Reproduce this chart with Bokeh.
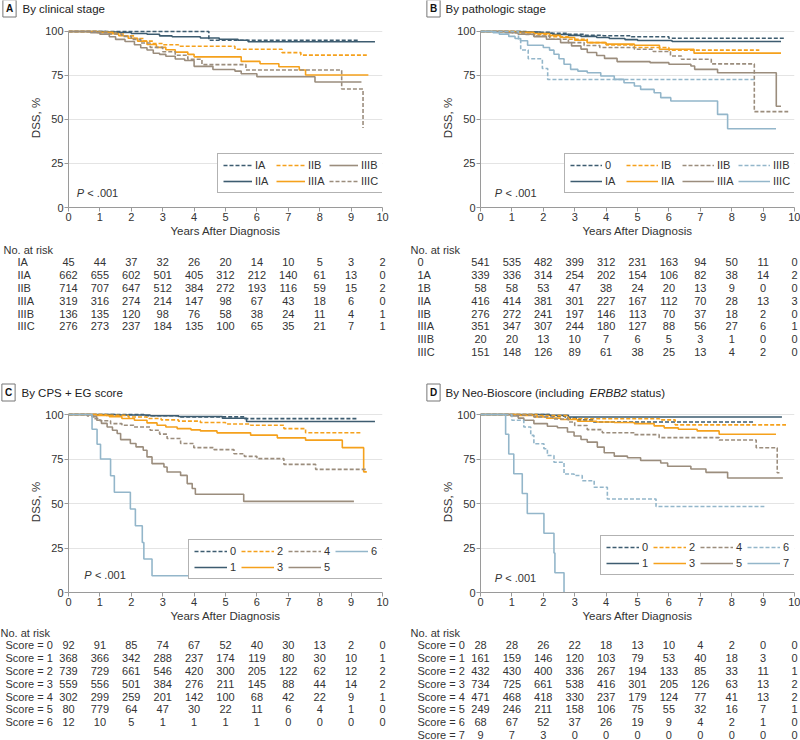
from bokeh.plotting import figure
from bokeh.layouts import row, column
from bokeh.models import Range1d, Label, Legend, LegendItem, ColumnDataSource
from bokeh.embed import file_html
from bokeh.resources import INLINE
from bokeh.core.properties import value

FONT = "Liberation Sans"
C_BLUE = "#3d5c70"
C_ORANGE = "#f5a11c"
C_TAUPE = "#9b8d7d"
C_LIGHT = "#93b6ca"
TXT = "#333333"

YEARS = list(range(11))

# ---------------- Panel A: clinical stage ----------------
a_IA_t = [0, 4.47, 9.24]
a_IA_s = [100, 95.0, 95.0]
a_IIA_t = [0, 1.2, 1.55, 2.0, 2.5, 2.9, 3.3, 4.2, 4.8, 5.4, 5.72, 9.76]
a_IIA_s = [100, 99.7, 99.4, 98.9, 98.4, 97.5, 97.0, 96.3, 95.6, 95.0, 94.2, 94.2]
a_IIB_t = [0, 1.0, 1.5, 1.8, 2.1, 2.4, 2.7, 3.0, 3.5, 5.3, 6.8, 7.4, 9.5]
a_IIB_s = [100, 99.5, 98.6, 97.5, 96.0, 94.5, 93.2, 92.5, 91.6, 89.9, 88.0, 86.6, 86.6]
a_IIIA_t = [0, 0.9, 1.3, 1.6, 1.9, 2.2, 2.5, 2.8, 3.1, 3.4, 3.8, 4.0, 5.5, 6.1, 6.7, 7.35, 7.55, 9.55]
a_IIIA_s = [100, 99.5, 98.8, 97.6, 96.2, 94.5, 92.6, 91.0, 89.6, 88.3, 87.0, 85.6, 83.0, 81.7, 80.0, 78.1, 75.3, 75.3]
a_IIIB_t = [0, 0.7, 1.0, 1.3, 1.5, 1.8, 2.1, 2.3, 2.5, 2.7, 2.9, 3.1, 3.4, 3.7, 4.0, 4.6, 5.3, 5.5, 6.0, 7.85, 9.33]
a_IIIB_s = [100, 99.3, 98.5, 97.0, 95.5, 94.3, 92.5, 90.8, 89.5, 87.6, 87.0, 85.9, 84.4, 83.5, 80.2, 78.4, 77.5, 76.0, 74.3, 71.3, 71.3]
a_IIIC_t = [0, 0.9, 1.3, 1.7, 2.0, 2.3, 2.6, 3.0, 3.4, 3.8, 4.25, 5.65, 8.7, 9.38]
a_IIIC_s = [100, 99.5, 98.6, 97.2, 95.5, 93.5, 91.0, 88.5, 86.5, 84.2, 81.2, 78.1, 67.3, 45.2]

a_groups = ["IA", "IIA", "IIB", "IIIA", "IIIB", "IIIC"]
risk_a_IA = [45, 44, 37, 32, 26, 20, 14, 10, 5, 3, 2]
risk_a_IIA = [662, 655, 602, 501, 405, 312, 212, 140, 61, 13, 0]
risk_a_IIB = [714, 707, 647, 512, 384, 272, 193, 116, 59, 15, 2]
risk_a_IIIA = [319, 316, 274, 214, 147, 98, 67, 43, 18, 6, 0]
risk_a_IIIB = [136, 135, 120, 98, 76, 58, 38, 24, 11, 4, 1]
risk_a_IIIC = [276, 273, 237, 184, 135, 100, 65, 35, 21, 7, 1]

# ---------------- Panel B: pathologic stage ----------------
b_0_t = [0, 1.5, 2.2, 2.8, 3.3, 3.9, 4.8, 6.0, 9.7]
b_0_s = [100, 99.6, 99.0, 98.4, 97.9, 97.6, 97.0, 96.2, 96.2]
b_IA_t = [0, 1.3, 1.9, 2.3, 2.8, 3.2, 3.7, 4.1, 4.6, 5.0, 6.1, 9.57]
b_IA_s = [100, 99.7, 99.0, 98.3, 97.8, 97.2, 96.6, 96.0, 95.4, 94.9, 94.3, 94.3]
b_IB_t = [0, 1.2, 1.7, 2.2, 2.8, 3.4, 4.0, 4.9, 6.0, 8.88]
b_IB_s = [100, 99.2, 98.2, 97.0, 95.6, 93.7, 92.4, 90.9, 89.4, 89.4]
b_IIA_t = [0, 1.1, 1.7, 2.2, 2.55, 3.0, 3.4, 4.0, 4.9, 5.7, 6.8, 9.57]
b_IIA_s = [100, 99.5, 98.9, 97.8, 96.6, 95.0, 93.7, 92.8, 92.2, 89.9, 87.7, 87.7]
b_IIB_t = [0, 1.0, 1.4, 1.7, 2.2, 2.8, 3.3, 3.8, 4.9, 5.5, 6.05, 6.4, 7.35, 8.72, 9.8]
b_IIB_s = [100, 99.3, 98.3, 97.4, 95.6, 93.7, 92.0, 90.9, 89.9, 88.6, 86.1, 84.2, 81.6, 54.5, 54.5]
b_IIIA_t = [0, 0.8, 1.2, 1.7, 2.1, 2.55, 2.9, 3.2, 3.4, 3.7, 3.95, 4.35, 5.4, 6.0, 6.7, 6.82, 7.55, 9.42, 9.57]
b_IIIA_s = [100, 99.3, 98.4, 97.1, 95.6, 93.7, 91.8, 90.0, 88.1, 86.4, 84.7, 82.9, 82.3, 81.4, 80.4, 78.5, 76.6, 57.5, 57.5]
b_IIIB_t = [0, 1.21, 1.28, 1.52, 1.97, 2.14, 8.72]
b_IIIB_s = [100, 95.0, 89.5, 84.5, 79.0, 72.7, 72.7]
b_IIIC_t = [0, 0.4, 0.6, 0.9, 1.1, 1.28, 1.5, 2.0, 2.2, 2.34, 2.5, 2.66, 2.87, 3.1, 3.4, 3.83, 4.26, 4.57, 4.9, 5.1, 5.53, 5.74, 6.06, 7.55, 7.87, 9.41]
b_IIIC_s = [100, 99.3, 98.5, 97.2, 96.0, 94.7, 92.2, 90.9, 89.4, 87.1, 84.5, 81.4, 78.5, 77.5, 76.6, 74.7, 72.8, 70.9, 69.0, 67.1, 65.2, 62.4, 60.5, 52.9, 44.7, 44.7]

b_groups = ["0", "1A", "1B", "IIA", "IIB", "IIIA", "IIIB", "IIIC"]
risk_b_0 = [541, 535, 482, 399, 312, 231, 163, 94, 50, 11, 0]
risk_b_1A = [339, 336, 314, 254, 202, 154, 106, 82, 38, 14, 2]
risk_b_1B = [58, 58, 53, 47, 38, 24, 20, 13, 9, 0, 0]
risk_b_IIA = [416, 414, 381, 301, 227, 167, 112, 70, 28, 13, 3]
risk_b_IIB = [276, 272, 241, 197, 146, 113, 70, 37, 18, 2, 0]
risk_b_IIIA = [351, 347, 307, 244, 180, 127, 88, 56, 27, 6, 1]
risk_b_IIIB = [20, 20, 13, 10, 7, 6, 5, 3, 1, 0, 0]
risk_b_IIIC = [151, 148, 126, 89, 61, 38, 25, 13, 4, 2, 0]

# ---------------- Panel C: CPS + EG score ----------------
c_0_t = [0, 2.4, 3.5, 5.6, 9.17]
c_0_s = [100, 99.3, 98.7, 97.7, 97.7]
c_1_t = [0, 1.5, 2.6, 3.5, 4.9, 5.67, 9.76]
c_1_s = [100, 99.7, 99.3, 98.9, 97.9, 96.1, 96.1]
c_2_t = [0, 1.2, 1.9, 2.5, 2.95, 3.5, 4.2, 5.0, 5.8, 6.86, 7.55, 9.3]
c_2_s = [100, 99.5, 98.6, 97.8, 97.0, 96.3, 95.5, 94.7, 94.0, 92.1, 89.8, 89.8]
c_3_t = [0, 0.9, 1.3, 1.7, 2.1, 2.5, 2.82, 3.1, 3.46, 3.9, 4.2, 4.73, 5.8, 6.65, 7.55, 8.72, 9.4, 9.5]
c_3_s = [100, 99.5, 98.8, 97.8, 96.8, 95.3, 94.0, 93.0, 92.1, 91.4, 90.8, 89.7, 88.4, 86.9, 85.6, 81.4, 67.8, 67.8]
c_4_t = [0, 0.6, 0.8, 1.0, 1.34, 1.7, 2.08, 2.6, 2.9, 3.14, 3.57, 3.99, 4.63, 5.27, 5.6, 6.0, 6.86, 7.87, 9.5]
c_4_s = [100, 99.2, 97.7, 96.5, 94.9, 94.0, 93.0, 91.2, 89.0, 86.5, 83.7, 81.4, 80.3, 78.0, 76.5, 75.2, 72.0, 69.2, 69.2]
c_5_t = [0, 0.75, 0.9, 1.05, 1.23, 1.4, 1.55, 1.66, 1.97, 2.15, 2.38, 2.5, 2.66, 3.04, 3.14, 3.57, 3.78, 3.94, 4.04, 5.58, 9.09]
c_5_s = [100, 98.8, 96.8, 95.0, 93.0, 91.2, 89.3, 85.9, 83.7, 81.8, 79.9, 76.2, 72.4, 70.5, 67.7, 65.8, 61.2, 58.4, 55.2, 51.2, 51.2]
c_6_t = [0, 0.75, 0.91, 1.02, 1.34, 1.46, 1.97, 2.13, 2.35, 2.4, 2.66, 6.8]
c_6_s = [100, 91.7, 83.3, 75.0, 65.6, 56.3, 46.9, 37.5, 28.1, 18.8, 9.4, 9.4]

c_groups = ["Score = 0", "Score = 1", "Score = 2", "Score = 3", "Score = 4", "Score = 5", "Score = 6"]
risk_c_0 = [92, 91, 85, 74, 67, 52, 40, 30, 13, 2, 0]
risk_c_1 = [368, 366, 342, 288, 237, 174, 119, 80, 30, 10, 1]
risk_c_2 = [739, 729, 661, 546, 420, 300, 205, 122, 62, 12, 2]
risk_c_3 = [559, 556, 501, 384, 276, 211, 145, 88, 44, 14, 2]
risk_c_4 = [302, 299, 259, 201, 142, 100, 68, 42, 22, 9, 1]
risk_c_5 = [80, 779, 64, 47, 30, 22, 11, 6, 4, 1, 0]
risk_c_6 = [12, 10, 5, 1, 1, 1, 1, 0, 0, 0, 0]

# ---------------- Panel D: Neo-Bioscore ----------------
d_0_t = [0, 2.2, 2.7, 3.1, 3.6, 8.72]
d_0_s = [100, 99.0, 98.0, 97.0, 95.8, 95.8]
d_1_t = [0, 2.2, 2.8, 9.6]
d_1_s = [100, 99.6, 98.6, 98.6]
d_2_t = [0, 1.8, 2.8, 5.7, 6.2, 9.73]
d_2_s = [100, 99.4, 97.6, 97.0, 94.2, 94.2]
d_3_t = [0, 1.2, 1.7, 2.1, 2.55, 3.09, 3.7, 4.26, 4.9, 5.53, 5.85, 6.3, 6.9, 7.6, 9.41]
d_3_s = [100, 99.5, 98.7, 98.0, 97.2, 96.2, 95.8, 95.5, 94.9, 93.6, 92.5, 91.7, 90.8, 88.9, 88.9]
d_4_t = [0, 0.96, 1.7, 2.3, 2.8, 3.0, 3.4, 3.88, 4.9, 5.69, 7.6, 8.78, 9.45, 9.52]
d_4_s = [100, 99.6, 98.7, 97.5, 95.8, 93.8, 91.5, 89.8, 88.7, 87.0, 85.7, 81.3, 67.3, 67.3]
d_5_t = [0, 0.96, 1.2, 1.38, 1.7, 2.13, 2.45, 2.77, 2.98, 3.2, 3.4, 3.72, 3.94, 4.26, 4.68, 5.1, 5.74, 5.96, 6.7, 7.18, 7.87, 9.63]
d_5_s = [100, 99.2, 98.0, 96.8, 94.9, 93.4, 92.6, 90.2, 87.9, 86.0, 84.5, 81.7, 78.5, 76.6, 75.7, 74.2, 72.8, 70.9, 69.4, 67.5, 64.3, 64.3]
d_6_t = [0, 1.0, 1.38, 1.6, 1.7, 2.02, 2.13, 2.34, 2.66, 2.98, 3.24, 3.62, 4.04, 5.59, 9.04]
d_6_s = [100, 96.8, 93.0, 88.3, 83.6, 80.8, 77.0, 73.2, 66.6, 65.7, 62.8, 59.1, 52.5, 48.3, 48.3]
d_7_t = [0, 0.8, 0.9, 1.06, 1.33, 1.49, 2.02, 2.34, 2.37, 2.66]
d_7_s = [100, 88.9, 77.8, 66.7, 55.6, 44.4, 33.3, 22.2, 11.1, 0]

d_groups = ["Score = 0", "Score = 1", "Score = 2", "Score = 3", "Score = 4", "Score = 5", "Score = 6", "Score = 7"]
risk_d_0 = [28, 28, 26, 22, 18, 13, 10, 4, 2, 0, 0]
risk_d_1 = [161, 159, 146, 120, 103, 79, 53, 40, 18, 3, 0]
risk_d_2 = [432, 430, 400, 336, 267, 194, 133, 85, 33, 11, 1]
risk_d_3 = [734, 725, 661, 538, 416, 301, 205, 126, 63, 13, 2]
risk_d_4 = [471, 468, 418, 330, 237, 179, 124, 77, 41, 13, 2]
risk_d_5 = [249, 246, 211, 158, 106, 75, 55, 32, 16, 7, 1]
risk_d_6 = [68, 67, 52, 37, 26, 19, 9, 4, 2, 1, 0]
risk_d_7 = [9, 7, 3, 0, 0, 0, 0, 0, 0, 0, 0]

# ---------------- layout constants ----------------
PANEL_W = 400
FRAME_W = 314
PXYR = FRAME_W / 10.0
YTOP = 101.7
SOLID = "solid"
DASH = "4 2"
FS = "11px"


def bare_fig(height, xr, yr):
    p = figure(width=PANEL_W, height=height, x_range=xr, y_range=yr,
               x_axis_location=None, y_axis_location=None, min_border=0,
               toolbar_location=None, output_backend="svg", frame_align=False)
    p.outline_line_color = None
    p.xgrid.visible = False
    p.ygrid.visible = False
    return p


def title_panel(height, cy, letter, box_cx, parts):
    p = bare_fig(height, Range1d(0, PANEL_W), Range1d(height, 0))
    p.add_layout(Label(x=box_cx, y=cy, text=letter, text_align="center",
                       text_baseline="middle", text_font=FONT,
                       text_font_size="10px", text_font_style="bold",
                       text_color="#111111", border_line_color="#777777",
                       border_line_width=1, background_fill_color="white",
                       padding=3))
    for tx, txt, style in parts:
        p.add_layout(Label(x=tx, y=cy, text=txt, text_font=FONT, text_font_size="11.5px",
                           text_font_style=style, text_color="#222222",
                           text_baseline="middle"))
    return p


def km_panel(frame_left, top, frame_h, bottom, curves, leg_glyph_w, leg_label_w,
             leg_xy, p_pos):
    right = PANEL_W - frame_left - FRAME_W
    p = figure(width=PANEL_W, height=top + frame_h + bottom,
               x_range=Range1d(0, 10), y_range=Range1d(0, YTOP),
               output_backend="svg", toolbar_location=None, frame_align=False,
               min_border_left=frame_left, min_border_right=right,
               min_border_top=top, min_border_bottom=bottom)
    p.outline_line_color = None
    p.xgrid.visible = False
    p.ygrid.grid_line_color = "#e4e4e4"
    p.xaxis.ticker = YEARS
    p.yaxis.ticker = [0, 25, 50, 75, 100]
    p.yaxis.bounds = (0, 100)
    p.xaxis.axis_label = "Years After Diagnosis"
    p.yaxis.axis_label = "DSS, %"
    for ax in (p.xaxis, p.yaxis):
        ax.axis_line_color = "#9a9a9a"
        ax.major_tick_line_color = "#9a9a9a"
        ax.major_tick_out = 4
        ax.major_tick_in = 0
        ax.minor_tick_line_color = None
        ax.major_label_text_font = FONT
        ax.major_label_text_font_size = FS
        ax.major_label_text_color = TXT
        ax.axis_label_text_font = FONT
        ax.axis_label_text_font_size = "11.5px"
        ax.axis_label_text_font_style = "normal"
        ax.axis_label_text_color = TXT
        ax.major_label_standoff = 1
        ax.axis_label_standoff = 1
    p.yaxis.major_label_standoff = 1
    p.yaxis.axis_label_standoff = 0

    items = []
    for name, t, s, col, dash in curves:
        r = p.step(x=t, y=s, mode="after", line_color=col, line_width=1.6, line_dash=dash)
        items.append(LegendItem(label=name, renderers=[r]))
    leg = Legend(items=items, location=leg_xy, orientation="vertical", nrows=2,
                 border_line_color="#666666", border_line_width=1,
                 background_fill_color="white", background_fill_alpha=1.0,
                 padding=5, spacing=4, margin=0,
                 glyph_width=leg_glyph_w, glyph_height=12,
                 label_standoff=3, label_height=12, label_width=leg_label_w,
                 label_text_font=FONT, label_text_font_size=FS,
                 label_text_color=TXT)
    p.add_layout(leg)

    px, py, lx = p_pos
    p.add_layout(Label(x=px, y=py, text="P", text_font=FONT, text_font_size=FS,
                       text_font_style="italic", text_color=TXT, text_baseline="middle"))
    p.add_layout(Label(x=lx, y=py, text="< .001", text_font=FONT, text_font_size=FS,
                       text_color=TXT, text_baseline="middle"))
    return p


def table_panel(frame_left, height, hdr_y, rs, names, rows, hdr_px, lab_px):
    x0 = -frame_left / PXYR
    x1 = x0 + PANEL_W / PXYR
    ytop = -1 - hdr_y / rs
    ybot = ytop + height / rs
    p = bare_fig(height, Range1d(x0, x1), Range1d(ybot, ytop))
    xs, ys, tx = [], [], []
    for i, vals in enumerate(rows):
        for t, v in zip(YEARS, vals):
            xs.append(t)
            ys.append(i)
            tx.append(str(v))
    nsrc = ColumnDataSource(dict(x=xs, y=ys, text=tx))
    lsrc = ColumnDataSource(dict(x=[x0 + lab_px / PXYR] * len(names) + [x0 + hdr_px / PXYR],
                                 y=list(range(len(names))) + [-1],
                                 text=list(names) + ["No. at risk"]))
    p.text(x="x", y="y", text="text", source=nsrc, text_align="center",
           text_baseline="middle", text_font=value(FONT), text_font_size=FS,
           text_color=TXT)
    p.text(x="x", y="y", text="text", source=lsrc, text_align="left",
           text_baseline="middle", text_font=value(FONT), text_font_size=FS,
           text_color=TXT)
    return p


curves_a = [("IA", a_IA_t, a_IA_s, C_BLUE, DASH),
            ("IIA", a_IIA_t, a_IIA_s, C_BLUE, SOLID),
            ("IIB", a_IIB_t, a_IIB_s, C_ORANGE, DASH),
            ("IIIA", a_IIIA_t, a_IIIA_s, C_ORANGE, SOLID),
            ("IIIB", a_IIIB_t, a_IIIB_s, C_TAUPE, SOLID),
            ("IIIC", a_IIIC_t, a_IIIC_s, C_TAUPE, DASH)]
curves_b = [("0", b_0_t, b_0_s, C_BLUE, DASH),
            ("IA", b_IA_t, b_IA_s, C_BLUE, SOLID),
            ("IB", b_IB_t, b_IB_s, C_ORANGE, DASH),
            ("IIA", b_IIA_t, b_IIA_s, C_ORANGE, SOLID),
            ("IIB", b_IIB_t, b_IIB_s, C_TAUPE, DASH),
            ("IIIA", b_IIIA_t, b_IIIA_s, C_TAUPE, SOLID),
            ("IIIB", b_IIIB_t, b_IIIB_s, C_LIGHT, DASH),
            ("IIIC", b_IIIC_t, b_IIIC_s, C_LIGHT, SOLID)]
curves_c = [("0", c_0_t, c_0_s, C_BLUE, DASH),
            ("1", c_1_t, c_1_s, C_BLUE, SOLID),
            ("2", c_2_t, c_2_s, C_ORANGE, DASH),
            ("3", c_3_t, c_3_s, C_ORANGE, SOLID),
            ("4", c_4_t, c_4_s, C_TAUPE, DASH),
            ("5", c_5_t, c_5_s, C_TAUPE, SOLID),
            ("6", c_6_t, c_6_s, C_LIGHT, SOLID)]
curves_d = [("0", d_0_t, d_0_s, C_BLUE, DASH),
            ("1", d_1_t, d_1_s, C_BLUE, SOLID),
            ("2", d_2_t, d_2_s, C_ORANGE, DASH),
            ("3", d_3_t, d_3_s, C_ORANGE, SOLID),
            ("4", d_4_t, d_4_s, C_TAUPE, DASH),
            ("5", d_5_t, d_5_s, C_TAUPE, SOLID),
            ("6", d_6_t, d_6_s, C_LIGHT, DASH),
            ("7", d_7_t, d_7_s, C_LIGHT, SOLID)]

rows_a = [risk_a_IA, risk_a_IIA, risk_a_IIB, risk_a_IIIA, risk_a_IIIB, risk_a_IIIC]
rows_b = [risk_b_0, risk_b_1A, risk_b_1B, risk_b_IIA, risk_b_IIB, risk_b_IIIA, risk_b_IIIB, risk_b_IIIC]
rows_c = [risk_c_0, risk_c_1, risk_c_2, risk_c_3, risk_c_4, risk_c_5, risk_c_6]
rows_d = [risk_d_0, risk_d_1, risk_d_2, risk_d_3, risk_d_4, risk_d_5, risk_d_6, risk_d_7]

# top row: title 20 + km (8 + 179 + 34) + table 134 = 375
tA = title_panel(20, 8, "A", 9, [(22, "By clinical stage", "normal")])
tB = title_panel(20, 8, "B", 33, [(45, "By pathologic stage", "normal")])
kmA = km_panel(68, 8, 179, 34, curves_a, 29, 17, (149, 14), (0.26, 8, 0.6))
kmB = km_panel(80, 8, 179, 34, curves_b, 32, 17, (84, 14), (0.45, 8, 0.8))
tabA = table_panel(68, 134, 8, 12.8, a_groups, rows_a, 3, 17)
tabB = table_panel(80, 134, 8, 12.8, b_groups, rows_b, 10, 17)

# bottom row: title 30 + km (6 + 181 + 33) + table 115 = 365
tC = title_panel(30, 17, "C", 8, [(21, "By CPS + EG score", "normal")])
tD = title_panel(30, 17, "D", 33, [(45, "By Neo-Bioscore (including", "normal"),
                                   (189, "ERBB2", "italic"),
                                   (230, "status)", "normal")])
kmC = km_panel(68, 6, 181, 33, curves_c, 33, 7, (120, 13), (0.5, 10.1, 0.84))
kmD = km_panel(80, 6, 181, 33, curves_d, 33, 7, (120, 17), (0.45, 8.4, 0.79))
tabC = table_panel(68, 115, 7, 12.8, c_groups, rows_c, 0, 5)
tabD = table_panel(80, 115, 7, 12.8, d_groups, rows_d, 10, 17)

layout = column(row(column(tA, kmA, tabA), column(tB, kmB, tabB)),
                row(column(tC, kmC, tabC), column(tD, kmD, tabD)))

open("out.html", "w").write(file_html(layout, INLINE))
